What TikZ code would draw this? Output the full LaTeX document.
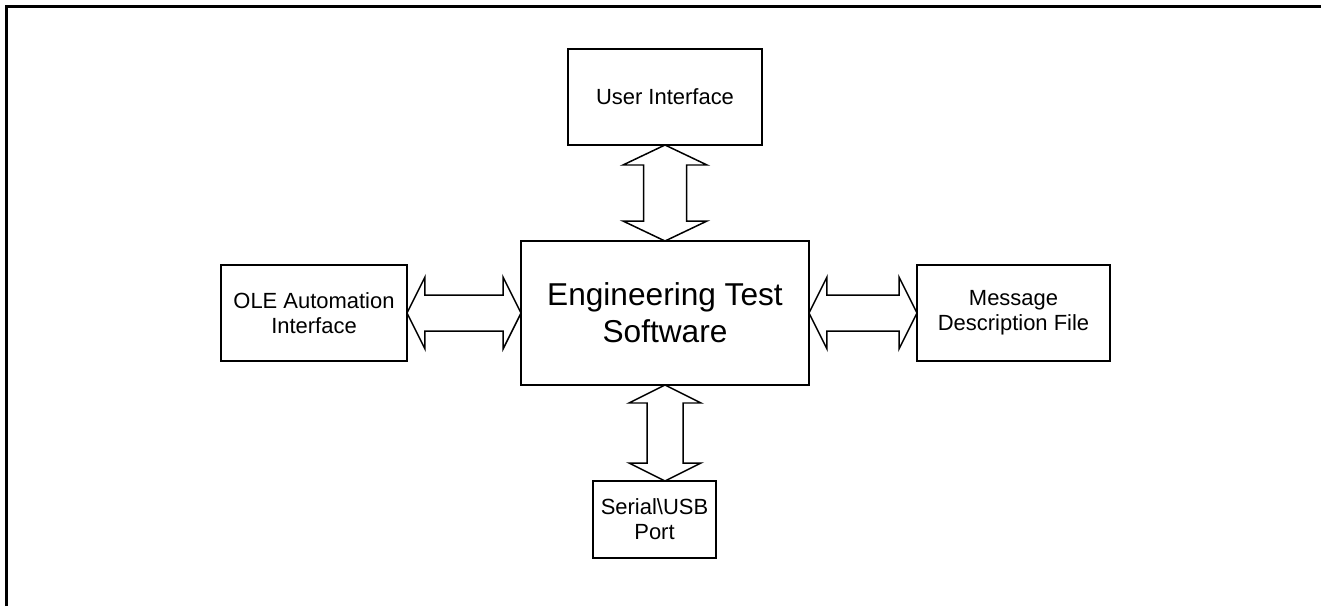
\documentclass[tikz,border=0pt]{standalone}
\usepackage{fontspec}
\setmainfont{Liberation Sans}
\usepackage{tikz}
\usetikzlibrary{calc}

\begin{document}
\begin{tikzpicture}[
    x=0.02cm, y=-0.02cm,
    block/.style={rectangle, draw=black, line width=0.85pt, fill=white, align=center, inner sep=0pt, outer sep=0pt, font=\fontsize{12.5}{14.2}\selectfont},
    core/.style={block, font=\fontsize{18}{21}\selectfont},
    bigarrow/.style={draw=black, line width=0.85pt, fill=white, line join=miter},
    frameline/.style={line width=1.6pt, draw=black}
]
\useasboundingbox (0,0) rectangle (1321,606);

% =====================================================================
% FRAME
% =====================================================================
\draw[frameline] (6.5,606) -- (6.5,6.5) -- (1321,6.5);

% =====================================================================
% BLOCKS
% =====================================================================
\node[core, minimum width=5.76cm, minimum height=2.88cm] (ETS) at (665,313) {Engineering Test\\Software};
\node[block, minimum width=3.88cm, minimum height=1.92cm] (UI) at (665,97) {User Interface};
\node[block, minimum width=3.72cm, minimum height=1.92cm] (OLE) at (314,313) {OLE Automation\\Interface};
\node[block, minimum width=3.86cm, minimum height=1.92cm] (MDF) at (1013.5,313) {Message\\Description File};
\node[block, minimum width=2.46cm, minimum height=1.54cm] (SER) at (654.5,519.5) {Serial\textbackslash USB\\Port};

% =====================================================================
% DOUBLE ARROWS
% =====================================================================
% Left and right (head length 18, head 36, shaft 18)
\foreach \a/\b in {OLE/ETS, ETS/MDF}
    \draw[bigarrow] (\a.east) -- ($(\a.east)+(18,-36)$) -- ($(\a.east)+(18,-18)$)
        -- ($(\b.west)+(-18,-18)$) -- ($(\b.west)+(-18,-36)$) -- (\b.west)
        -- ($(\b.west)+(-18,36)$) -- ($(\b.west)+(-18,18)$)
        -- ($(\a.east)+(18,18)$) -- ($(\a.east)+(18,36)$) -- cycle;

% Top (wider)
\draw[bigarrow] (UI.south) -- ($(UI.south)+(-42,20)$) -- ($(UI.south)+(-21.5,20)$)
    -- ($(ETS.north)+(-21.5,-20)$) -- ($(ETS.north)+(-42,-20)$) -- (ETS.north)
    -- ($(ETS.north)+(42,-20)$) -- ($(ETS.north)+(21.5,-20)$)
    -- ($(UI.south)+(21.5,20)$) -- ($(UI.south)+(42,20)$) -- cycle;

% Bottom
\coordinate (SERtip) at (ETS.south |- SER.north);
\draw[bigarrow] (ETS.south) -- ($(ETS.south)+(-36,18)$) -- ($(ETS.south)+(-18,18)$)
    -- ($(SERtip)+(-18,-18)$) -- ($(SERtip)+(-36,-18)$) -- (SERtip)
    -- ($(SERtip)+(36,-18)$) -- ($(SERtip)+(18,-18)$)
    -- ($(ETS.south)+(18,18)$) -- ($(ETS.south)+(36,18)$) -- cycle;

\end{tikzpicture}
\end{document}
